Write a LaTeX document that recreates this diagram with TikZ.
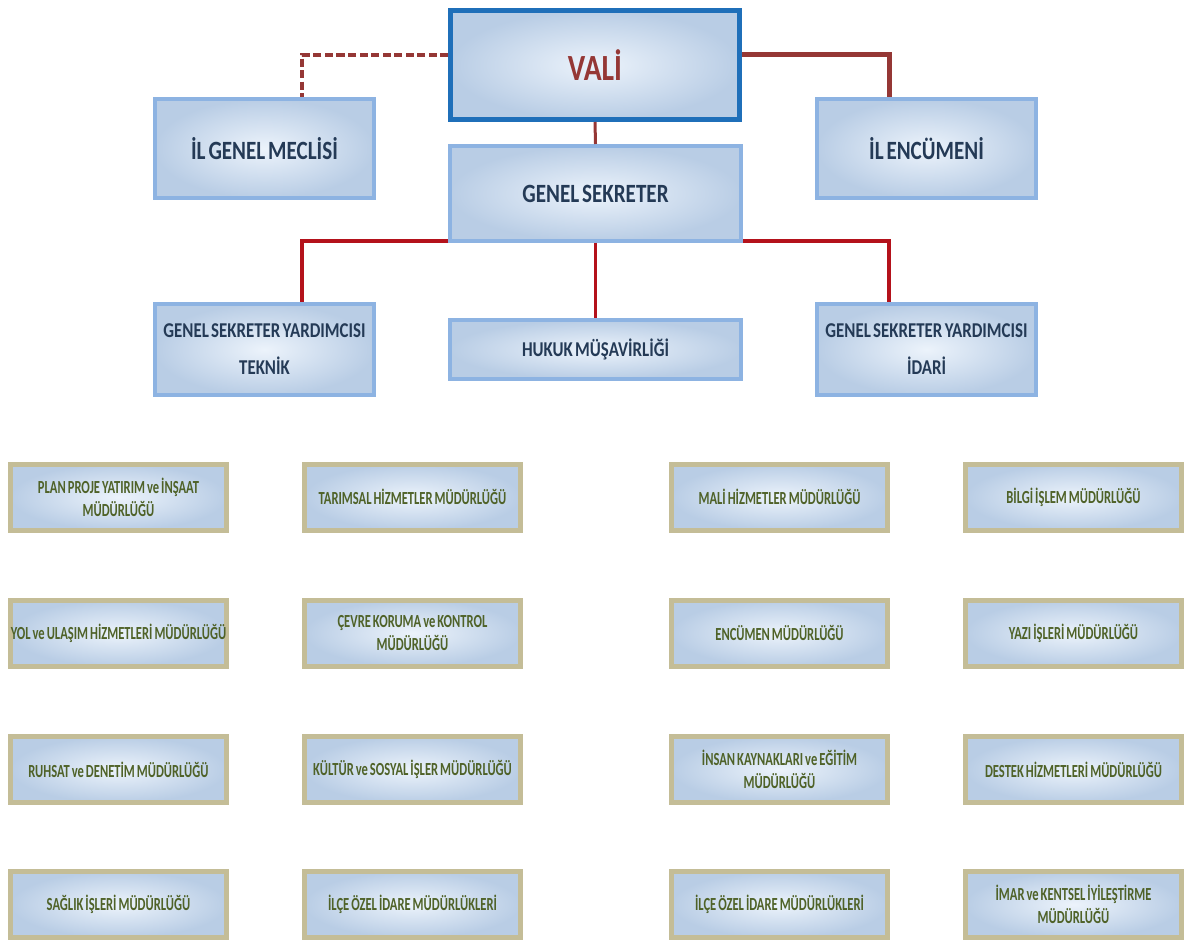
\documentclass[tikz,border=0pt]{standalone}
\usepackage{fontspec}
\setmainfont{Carlito}[FakeStretch=0.8, WordSpace=0.6]
\newfontfamily\unitfont{Carlito}[FakeStretch=0.68, WordSpace=0.7]
\usepackage{tikz}
\usetikzlibrary{positioning}
\definecolor{valiblue}{RGB}{31,111,185}
\definecolor{boxblue}{RGB}{141,179,226}
\definecolor{boxtan}{RGB}{196,189,151}
\definecolor{fillin}{RGB}{236,243,251}
\definecolor{fillout}{RGB}{185,205,229}
\definecolor{linkred}{RGB}{149,55,53}
\definecolor{branchred}{RGB}{180,18,27}
\definecolor{headtext}{RGB}{36,58,86}
\definecolor{unittext}{RGB}{79,98,40}
\tikzset{
	topbox/.style={draw=boxblue, line width=0.08cm, inner color=fillin, outer color=fillout,
		inner sep=0pt, align=center, text=headtext, font=\bfseries},
	unitbox/.style={draw=boxtan, line width=0.1cm, inner color=fillin, outer color=fillout,
		minimum width=4.32cm, minimum height=1.32cm, inner sep=0pt,
		align=center, text=unittext, font=\unitfont\fontsize{10.5}{13}\selectfont\bfseries},
	link/.style={linkred, line width=0.1cm},
	branch/.style={branchred, line width=0.08cm}
}

\begin{document}
\begin{tikzpicture}
	\useasboundingbox (0,0) rectangle (23.76,18.84);
	% upper part
	\node[topbox, draw=valiblue, line width=0.1cm, minimum width=5.78cm, minimum height=2.18cm,
		text=linkred, font=\fontsize{21}{25}\selectfont\bfseries] (vali) at (11.90,17.54) {VALİ};
	\node[topbox, minimum width=4.38cm, minimum height=1.98cm, font=\fontsize{15}{18}\selectfont\bfseries]
		(meclis) at (5.29,15.87) {İL GENEL MECLİSİ};
	\node[topbox, minimum width=4.38cm, minimum height=1.98cm, font=\fontsize{15}{18}\selectfont\bfseries]
		(encumen) at (18.53,15.87) {İL ENCÜMENİ};
	\node[topbox, minimum width=5.82cm, minimum height=1.90cm, font=\fontsize{15}{18}\selectfont\bfseries]
		(gs) at (11.91,14.97) {GENEL SEKRETER};
	\node[topbox, minimum width=4.38cm, minimum height=1.82cm, font=\fontsize{12}{21}\selectfont\bfseries]
		(teknik) at (5.29,11.85) {GENEL SEKRETER YARDIMCISI\\TEKNİK};
	\node[topbox, minimum width=5.82cm, minimum height=1.18cm, font=\fontsize{12}{16}\selectfont\bfseries]
		(hukuk) at (11.91,11.85) {HUKUK MÜŞAVİRLİĞİ};
	\node[topbox, minimum width=4.38cm, minimum height=1.82cm, font=\fontsize{12}{21}\selectfont\bfseries]
		(idari) at (18.53,11.85) {GENEL SEKRETER YARDIMCISI\\İDARİ};
	% connectors
	\draw[link, line width=0.08cm, dash pattern=on 0.16cm off 0.07cm]
		([yshift=0.2cm]vali.west) -| ([xshift=0.75cm]meclis.north);
	\draw[link] ([yshift=0.2cm]vali.east) -| ([xshift=-0.75cm]encumen.north);
	\draw[link, line width=0.06cm] (vali.south) -- (gs.north);
	\draw[branch] ([yshift=0.04cm]gs.south west) -| ([xshift=0.75cm]teknik.north);
	\draw[branch] ([yshift=0.04cm]gs.south east) -| ([xshift=-0.75cm]idari.north);
	\draw[branch, line width=0.06cm] (gs.south) -- (hukuk.north);
	% directorates
	\node[unitbox] (u11) at (2.37,8.90) {PLAN PROJE YATIRIM ve İNŞAAT\\MÜDÜRLÜĞÜ};
	\node[unitbox] (u12) at (8.25,8.90) {TARIMSAL HİZMETLER MÜDÜRLÜĞÜ};
	\node[unitbox] (u13) at (15.59,8.90) {MALİ HİZMETLER MÜDÜRLÜĞÜ};
	\node[unitbox] (u14) at (21.47,8.90) {BİLGİ İŞLEM MÜDÜRLÜĞÜ};
	\node[unitbox] (u21) at (2.37,6.18) {YOL ve ULAŞIM HİZMETLERİ MÜDÜRLÜĞÜ};
	\node[unitbox] (u22) at (8.25,6.18) {ÇEVRE KORUMA ve KONTROL\\MÜDÜRLÜĞÜ};
	\node[unitbox] (u23) at (15.59,6.18) {ENCÜMEN MÜDÜRLÜĞÜ};
	\node[unitbox] (u24) at (21.47,6.18) {YAZI İŞLERİ MÜDÜRLÜĞÜ};
	\node[unitbox] (u31) at (2.37,3.45) {RUHSAT ve DENETİM MÜDÜRLÜĞÜ};
	\node[unitbox] (u32) at (8.25,3.45) {KÜLTÜR ve SOSYAL İŞLER MÜDÜRLÜĞÜ};
	\node[unitbox] (u33) at (15.59,3.45) {İNSAN KAYNAKLARI ve EĞİTİM\\MÜDÜRLÜĞÜ};
	\node[unitbox] (u34) at (21.47,3.45) {DESTEK HİZMETLERİ MÜDÜRLÜĞÜ};
	\node[unitbox] (u41) at (2.37,0.75) {SAĞLIK İŞLERİ MÜDÜRLÜĞÜ};
	\node[unitbox] (u42) at (8.25,0.75) {İLÇE ÖZEL İDARE MÜDÜRLÜKLERİ};
	\node[unitbox] (u43) at (15.59,0.75) {İLÇE ÖZEL İDARE MÜDÜRLÜKLERİ};
	\node[unitbox] (u44) at (21.47,0.75) {İMAR ve KENTSEL İYİLEŞTİRME\\MÜDÜRLÜĞÜ};
\end{tikzpicture}
\end{document}
